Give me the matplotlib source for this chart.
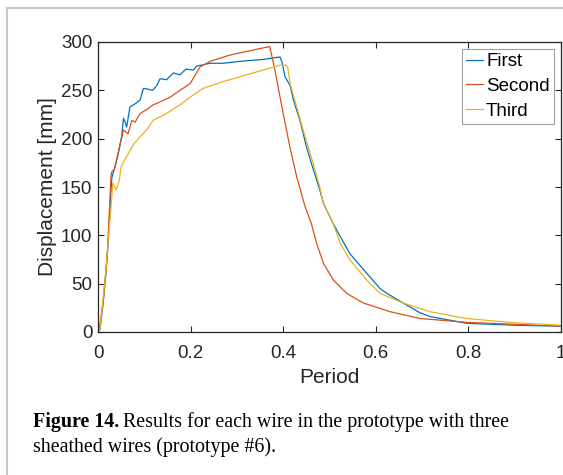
import numpy as np
import matplotlib
matplotlib.use('Agg')
import matplotlib.pyplot as plt
from matplotlib.lines import Line2D

plt.rcParams['font.family'] = ['Liberation Sans', 'DejaVu Sans']

# data
first_x = [0, 0.004, 0.01, 0.017, 0.022, 0.026, 0.03, 0.037, 0.044, 0.051, 0.055, 0.058, 0.062,
           0.069, 0.08, 0.091, 0.098, 0.11, 0.118, 0.127, 0.134, 0.148, 0.163, 0.177, 0.19, 0.206,
           0.213, 0.242, 0.27, 0.307, 0.357, 0.393, 0.397, 0.404, 0.415, 0.422, 0.436, 0.45, 0.465,
           0.479, 0.487, 0.508, 0.523, 0.544, 0.58, 0.609, 0.624, 0.659, 0.695, 0.717, 0.796, 0.9, 1.0]
first_y = [0, 2, 25, 60, 92, 130, 160, 171, 185, 202, 221, 218, 212,
           233, 236, 240, 252, 251, 250, 255, 262, 261, 268, 266, 272, 271,
           275, 278, 278, 280, 282, 284.5, 280, 264, 255, 240, 219, 192, 168,
           147, 133, 112, 99, 81, 61, 45, 40, 30, 20, 16, 9, 7, 6]

second_x = [0, 0.005, 0.012, 0.02, 0.024, 0.028, 0.03, 0.035, 0.04, 0.048, 0.055, 0.065, 0.073,
            0.08, 0.091, 0.105, 0.119, 0.134, 0.156, 0.177, 0.199, 0.22, 0.242, 0.285, 0.328, 0.368,
            0.371, 0.379, 0.386, 0.40, 0.415, 0.429, 0.447, 0.461, 0.472, 0.487, 0.508, 0.537, 0.573,
            0.631, 0.695, 0.796, 0.9, 1.0]
second_y = [0, 10, 35, 80, 120, 161, 166, 168, 178, 195, 209, 205, 219,
            217, 226, 230, 235, 238, 243, 250, 257, 274, 280, 286.5, 291, 295,
            295, 278, 261, 226, 190, 161, 130, 112, 92, 71, 54, 40, 30,
            21, 14, 10, 8, 6]

third_x = [0, 0.004, 0.01, 0.017, 0.022, 0.028, 0.032, 0.039, 0.046, 0.05, 0.06, 0.078, 0.091,
           0.105, 0.119, 0.148, 0.177, 0.199, 0.227, 0.27, 0.321, 0.371, 0.393, 0.407, 0.41, 0.415,
           0.429, 0.443, 0.465, 0.479, 0.487, 0.508, 0.523, 0.544, 0.58, 0.609, 0.624, 0.659, 0.695,
           0.717, 0.796, 0.897, 1.0]
third_y = [0, 3, 30, 64, 95, 128, 154, 147, 157, 171, 180, 195, 202,
           209, 219, 226, 235, 243, 252, 259, 266, 273, 276, 276, 273, 257,
           233, 209, 174, 150, 133, 112, 92, 74.5, 54, 40, 37, 30, 24.5,
           21, 14, 9.6, 7]

labels = ['First', 'Second', 'Third']
colors = ['#0072BD', '#D95319', '#EDB120']

W, H = 563, 475
fig = plt.figure(figsize=(W / 100, H / 100), dpi=100)
ax = fig.add_axes([98 / W, 1 - 332 / H, 463 / W, 290 / H])

for xs, ys, lab, c in zip([first_x, second_x, third_x], [first_y, second_y, third_y], labels, colors):
    ax.plot(xs, ys, color=c, lw=0.9, label=lab)

ax.set_xlim(0, 1)
ax.set_ylim(0, 300)
ax.set_xticks(np.arange(0, 1.01, 0.2))
ax.set_xticklabels(['0', '0.2', '0.4', '0.6', '0.8', '1'])
ax.set_yticks(np.arange(0, 301, 50))

dark = '#262626'
ax.tick_params(direction='in', length=4, width=0.8, colors=dark, labelsize=13.5,
               top=True, right=True)
ax.tick_params(axis='x', pad=9)
ax.tick_params(axis='y', pad=4)
for s in ax.spines.values():
    s.set_color(dark)
    s.set_linewidth(0.9)

ax.set_xlabel('Period', fontsize=15, color=dark, labelpad=5)
ax.set_ylabel('Displacement [mm]', fontsize=15, color=dark, labelpad=3)

leg = ax.legend(loc='upper right', fontsize=13.5, handlelength=0.9, handletextpad=0.15,
                borderpad=0.25, labelspacing=0.4, borderaxespad=0.35, fancybox=False,
                framealpha=1, edgecolor='#a0a0a0')
leg.get_frame().set_linewidth(0.8)

# page border lines
fig.add_artist(Line2D([7 / W, 7 / W], [0, 1 - 8 / H], color='#c8c8c8', lw=1.5))
fig.add_artist(Line2D([7 / W, 1], [1 - 8 / H, 1 - 8 / H], color='#c8c8c8', lw=1.5))

# caption: bold label followed by regular text
serif = ['Liberation Serif', 'DejaVu Serif']
cap_size = 14.4
t1 = fig.text(33 / W, 1 - 427 / H, 'Figure 14.', fontsize=cap_size, family=serif,
              fontweight='bold', va='baseline')
fig.canvas.draw()
bb = t1.get_window_extent()
fig.text((bb.x1 + 4) / W, 1 - 427 / H, 'Results for each wire in the prototype with three',
         fontsize=cap_size, family=serif, va='baseline')
fig.text(33 / W, 1 - 452 / H, 'sheathed wires (prototype #6).', fontsize=cap_size,
         family=serif, va='baseline')

fig.savefig('out.png', dpi=100)
